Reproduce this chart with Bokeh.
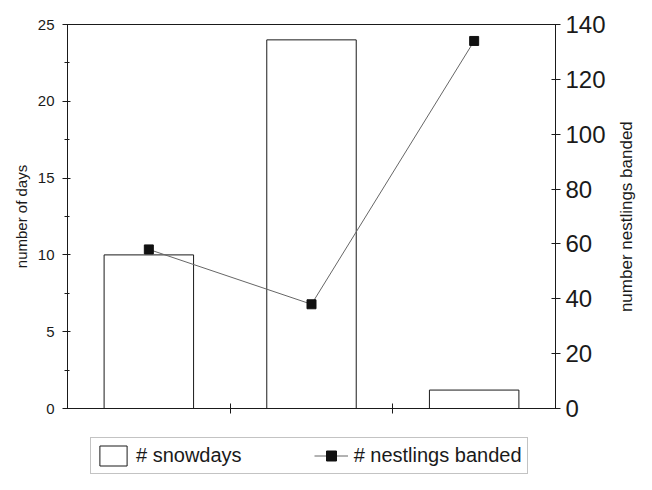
import numpy as np
from bokeh.plotting import figure
from bokeh.layouts import column, row
from bokeh.models import (Range1d, LinearAxis, FixedTicker, Legend, LegendItem,
                          ColumnDataSource, Label)
from bokeh.embed import file_html
from bokeh.resources import INLINE

# ---- data ----
categories = ["period 1", "period 2", "period 3"]
snowdays = [10, 24, 1.2]
nestlings_banded = [58, 38, 134]
left_ticks = [0, 5, 10, 15, 20, 25]
left_minor = [2.5, 7.5, 12.5, 17.5, 22.5]
right_ticks = [0, 20, 40, 60, 80, 100, 120, 140]

FONT = "Liberation Sans"
INK = "#1a1a1a"

xpos = np.arange(len(categories)) + 0.5
boundaries = [float(b) for b in np.arange(1, len(categories))]
src = ColumnDataSource(dict(x=xpos, cat=categories, days=snowdays,
                            nest=nestlings_banded))

p = figure(width=616, height=426, output_backend="svg", toolbar_location=None,
           x_range=Range1d(0, len(categories)), y_range=Range1d(0, 25),
           min_border_left=67, min_border_right=61, min_border_top=24,
           min_border_bottom=18)
p.extra_y_ranges = {"nest": Range1d(0, 140)}
p.grid.visible = False
p.outline_line_color = INK
p.outline_line_width = 1
p.background_fill_color = "white"

bar_style = dict(fill_color="white", line_color=INK, line_width=1)
line_style = dict(line_color="#666666", line_width=1)
pt_style = dict(marker="square", size=9, fill_color="#111111", line_color="#111111")

p.vbar(x="x", top="days", bottom=0, width=0.55, source=src, **bar_style)
p.line(x="x", y="nest", source=src, y_range_name="nest", **line_style)
p.scatter(x="x", y="nest", source=src, y_range_name="nest", **pt_style)

# bottom axis: no labels, ticks at category boundaries
xa = p.xaxis[0]
xa.ticker = FixedTicker(ticks=boundaries, minor_ticks=[])
xa.major_label_overrides = {b: "" for b in boundaries}
xa.major_label_text_font_size = "10px"
xa.major_label_standoff = 0
xa.major_tick_in = 5
xa.major_tick_out = 5
xa.axis_line_color = INK
xa.major_tick_line_color = INK

# left axis
ya = p.yaxis[0]
ya.ticker = FixedTicker(ticks=left_ticks, minor_ticks=left_minor)
ya.axis_label = "number of days"
ya.axis_label_text_font = FONT
ya.axis_label_text_font_size = "15px"
ya.axis_label_text_font_style = "normal"
ya.axis_label_standoff = 5
ya.major_label_text_font = FONT
ya.major_label_text_font_size = "15px"
ya.major_label_standoff = 8
ya.major_tick_in = 3
ya.major_tick_out = 5
ya.minor_tick_in = 2
ya.minor_tick_out = 3
ya.axis_line_color = INK
ya.major_tick_line_color = INK
ya.minor_tick_line_color = INK
ya.major_label_text_color = INK
ya.axis_label_text_color = INK

# right axis (its title is drawn in the narrow strip at the right)
ra = LinearAxis(y_range_name="nest", ticker=FixedTicker(ticks=right_ticks, minor_ticks=[]))
ra.major_label_text_font = FONT
ra.major_label_text_font_size = "24px"
ra.major_label_standoff = 5
ra.major_tick_in = 4
ra.major_tick_out = 5
ra.axis_line_color = INK
ra.major_tick_line_color = INK
ra.major_label_text_color = INK
p.add_layout(ra, "right")

# ---- right-axis title strip (reads bottom to top, centred on the axis) ----
rt = figure(width=20, height=474, output_backend="svg", toolbar_location=None,
            x_range=Range1d(0, 1), y_range=Range1d(0, 1),
            min_border_left=0, min_border_right=0, min_border_top=0,
            min_border_bottom=0, x_axis_location=None, y_axis_location=None)
rt.grid.visible = False
rt.outline_line_color = None
rt.add_layout(Label(x=0.5, y=0.544, text="number nestlings banded", angle=np.pi / 2,
                    text_align="center", text_baseline="middle",
                    text_font=FONT, text_font_size="17px", text_color=INK))

# ---- legend strip (separate small figure below the chart) ----
lg = figure(width=616, height=48, output_backend="svg", toolbar_location=None,
            x_range=Range1d(0, 1), y_range=Range1d(0, 1),
            min_border_left=0, min_border_right=0, min_border_top=0,
            min_border_bottom=0, x_axis_location=None, y_axis_location=None)
lg.grid.visible = False
lg.outline_line_color = None
lb = lg.vbar(x="x", top="days", width=0.5, source=src, visible=False, **bar_style)
ll = lg.line(x="x", y="nest", source=src, visible=False, **line_style)
lp = lg.scatter(x="x", y="nest", source=src, visible=False, **pt_style)

legend = Legend(items=[LegendItem(label="# snowdays", renderers=[lb]),
                       LegendItem(label="# nestlings banded", renderers=[ll, lp])],
                orientation="horizontal", location=(23, 0),
                label_text_font=FONT, label_text_font_size="20px",
                label_text_color=INK,
                glyph_width=34, glyph_height=25, label_standoff=6,
                spacing=72, padding=5, margin=0,
                inactive_fill_alpha=0, click_policy="none",
                border_line_color="#888888", border_line_width=1,
                background_fill_alpha=0)
lg.add_layout(legend, "center")

layout = row(column(p, lg, spacing=0), rt, spacing=0)
open("out.html", "w").write(file_html(layout, INLINE))
